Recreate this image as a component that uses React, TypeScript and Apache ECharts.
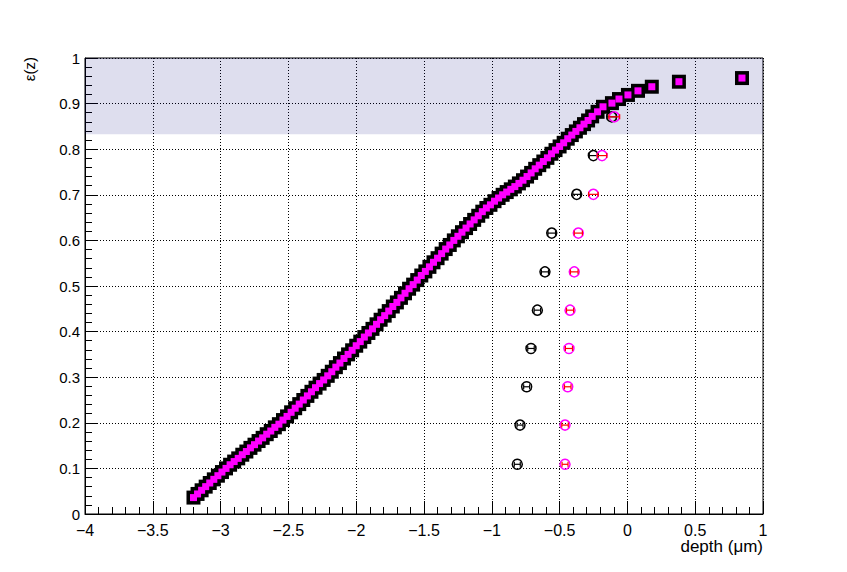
import React, { useEffect, useRef } from "react";
import * as echarts from "echarts";

// Efficiency curve: depth in µm, efficiency ε(z)
const curveDepth = [
  -3.2, -3.17, -3.14, -3.11, -3.08, -3.05, -3.02, -2.99, -2.96,
  -2.93, -2.9, -2.87, -2.84, -2.81, -2.78, -2.75, -2.72, -2.69, -2.66, -2.63, -2.6, -2.57,
  -2.54, -2.51, -2.48, -2.45, -2.42, -2.39, -2.36, -2.33, -2.3, -2.27, -2.24, -2.21,
  -2.18, -2.15, -2.12, -2.09, -2.06, -2.03, -2.0, -1.97, -1.94, -1.91,
  -1.88, -1.85, -1.82, -1.79, -1.76, -1.73, -1.7, -1.67, -1.64, -1.61, -1.58, -1.55,
  -1.52, -1.49, -1.46, -1.43, -1.4, -1.37, -1.34, -1.31, -1.28,
  -1.25, -1.22, -1.19, -1.16, -1.13, -1.1, -1.07,
  -1.04, -1.01, -0.98, -0.95, -0.92, -0.89, -0.86, -0.83, -0.8, -0.77,
  -0.74, -0.71, -0.68, -0.65, -0.62, -0.59, -0.56, -0.53,
  -0.5, -0.47, -0.44, -0.41, -0.38, -0.35, -0.32, -0.29, -0.26, -0.22,
  -0.18, -0.114, -0.062, 0.004, 0.078, 0.18, 0.38, 0.845,
];
const curveEff = [
  0.036, 0.044, 0.052, 0.06, 0.068, 0.076, 0.084, 0.092, 0.1,
  0.108, 0.115, 0.122, 0.13, 0.137, 0.145, 0.152, 0.16, 0.167, 0.175, 0.182, 0.19, 0.197,
  0.206, 0.214, 0.223, 0.232, 0.241, 0.25, 0.259, 0.268, 0.277, 0.286, 0.294, 0.303,
  0.312, 0.322, 0.331, 0.341, 0.35, 0.359, 0.369, 0.378, 0.388, 0.397,
  0.406, 0.416, 0.426, 0.435, 0.445, 0.455, 0.464, 0.474, 0.484, 0.494, 0.503, 0.513,
  0.523, 0.532, 0.542, 0.552, 0.561, 0.571, 0.581, 0.59, 0.6,
  0.609, 0.618, 0.627, 0.636, 0.645, 0.654, 0.663,
  0.671, 0.678, 0.686, 0.693, 0.7, 0.706, 0.712, 0.718, 0.725, 0.732,
  0.74, 0.748, 0.757, 0.765, 0.773, 0.781, 0.79, 0.798,
  0.806, 0.814, 0.823, 0.831, 0.839, 0.847, 0.855, 0.863, 0.872, 0.882,
  0.893, 0.901, 0.91, 0.919, 0.928, 0.937, 0.948, 0.956,
];

// Black open circles with horizontal error bars
const blackDepth = [-0.812, -0.792, -0.743, -0.711, -0.664, -0.608, -0.558, -0.374, -0.251, -0.116];
const blackEff = [0.109, 0.195, 0.279, 0.363, 0.447, 0.531, 0.616, 0.701, 0.786, 0.871];
const blackErr = [0.022, 0.022, 0.022, 0.024, 0.024, 0.026, 0.028, 0.028, 0.03, 0.035];

// Magenta open circles with red horizontal error bars
const pinkDepth = [-0.46, -0.46, -0.44, -0.431, -0.423, -0.392, -0.362, -0.251, -0.187, -0.097];
const pinkEff = [0.109, 0.195, 0.279, 0.363, 0.447, 0.531, 0.616, 0.701, 0.786, 0.871];
const pinkErr = [0.022, 0.024, 0.024, 0.026, 0.026, 0.028, 0.03, 0.035, 0.035, 0.04];

// Shaded band
const bandLow = 0.833;
const bandHigh = 1;

const xTitle = "depth (\u03bcm)";
const yTitle = "\u03b5(z)";

const FONT = "'Liberation Sans', Arial, Helvetica, sans-serif";

function fmt(v: number) {
  const s = String(parseFloat(v.toFixed(3)));
  return s.replace("-", "\u2212");
}

function errRenderer(circleColor: string, barColor: string) {
  return (params: any, api: any) => {
    const x = api.value(0);
    const y = api.value(1);
    const e = api.value(2);
    const c = api.coord([x, y]);
    const l = api.coord([x - e, y]);
    const r = api.coord([x + e, y]);
    const barStyle = { stroke: barColor, lineWidth: 1.2 };
    return {
      type: "group",
      children: [
        {
          type: "circle",
          shape: { cx: c[0], cy: c[1], r: 5 },
          style: { fill: "none", stroke: circleColor, lineWidth: 1.5 },
        },
        { type: "line", shape: { x1: l[0], y1: c[1], x2: r[0], y2: c[1] }, style: barStyle },
        { type: "line", shape: { x1: l[0], y1: c[1] - 2.5, x2: l[0], y2: c[1] + 2.5 }, style: barStyle },
        { type: "line", shape: { x1: r[0], y1: c[1] - 2.5, x2: r[0], y2: c[1] + 2.5 }, style: barStyle },
      ],
    };
  };
}

export default function App() {
  const ref = useRef<HTMLDivElement>(null);

  useEffect(() => {
    document.body.style.margin = "0";
    if (!ref.current) return;
    const chart = echarts.init(ref.current, undefined, { renderer: "svg" });

    const curve = curveDepth.map((d, i) => [d, curveEff[i]]);
    const black = blackDepth.map((d, i) => [d, blackEff[i], blackErr[i]]);
    const pink = pinkDepth.map((d, i) => [d, pinkEff[i], pinkErr[i]]);

    const axisCommon = {
      axisLine: { show: true, onZero: false, lineStyle: { color: "#000", width: 1 } },
      axisTick: { show: true, inside: true, length: 13, lineStyle: { color: "#000", width: 1 } },
      minorTick: { show: true, splitNumber: 5, length: 7, lineStyle: { color: "#000", width: 1 } },
      splitLine: { show: true, lineStyle: { color: "#000", width: 1, type: [1, 2] } },
    };

    chart.setOption({
      animation: false,
      backgroundColor: "#fff",
      grid: {
        left: 85,
        right: 84,
        top: 58,
        bottom: 58,
        show: true,
        borderColor: "#000",
        borderWidth: 1,
        backgroundColor: "transparent",
      },
      xAxis: {
        type: "value",
        min: -4,
        max: 1,
        interval: 0.5,
        ...axisCommon,
        axisLabel: {
          color: "#000",
          fontFamily: FONT,
          fontSize: 16,
          margin: 8,
          formatter: (v: number) => fmt(v),
        },
      },
      yAxis: {
        type: "value",
        min: 0,
        max: 1,
        interval: 0.1,
        ...axisCommon,
        axisLabel: {
          color: "#000",
          fontFamily: FONT,
          fontSize: 15,
          lineHeight: 13,
          margin: 5,
          formatter: (v: number) => fmt(v),
        },
      },
      graphic: [
        {
          type: "text",
          right: 847 - 763,
          top: 538,
          style: { text: xTitle, fill: "#000", font: `17px ${FONT}` },
        },
        {
          type: "text",
          x: 22,
          y: 57,
          rotation: Math.PI / 2,
          originX: 0,
          originY: 0,
          style: {
            text: yTitle,
            fill: "#000",
            font: `15px ${FONT}`,
            align: "right",
            verticalAlign: "top",
          },
        },
      ],
      series: [
        {
          type: "line",
          data: [],
          silent: true,
          z: 1,
          markArea: {
            silent: true,
            itemStyle: { color: "rgba(1,1,124,0.13)" },
            data: [[{ xAxis: -4, yAxis: bandLow }, { xAxis: 1, yAxis: bandHigh }]],
          },
        },
        {
          type: "scatter",
          data: curve,
          symbol: "rect",
          symbolSize: 14,
          itemStyle: { color: "#000", opacity: 1 },
          silent: true,
          z: 3,
        },
        {
          type: "scatter",
          data: curve,
          symbol: "rect",
          symbolSize: 7,
          itemStyle: { color: "#ff00ff", opacity: 1 },
          silent: true,
          z: 4,
        },
        {
          type: "custom",
          data: black,
          encode: { x: 0, y: 1 },
          renderItem: errRenderer("#000", "#000"),
          silent: true,
          z: 5,
        },
        {
          type: "custom",
          data: pink,
          encode: { x: 0, y: 1 },
          renderItem: errRenderer("#ff00ff", "#ff0000"),
          silent: true,
          z: 6,
        },
      ],
    });

    return () => chart.dispose();
  }, []);

  return (
    <div
      ref={ref}
      style={{ position: "absolute", left: 0, top: 0, width: 847, height: 572 }}
    />
  );
}
